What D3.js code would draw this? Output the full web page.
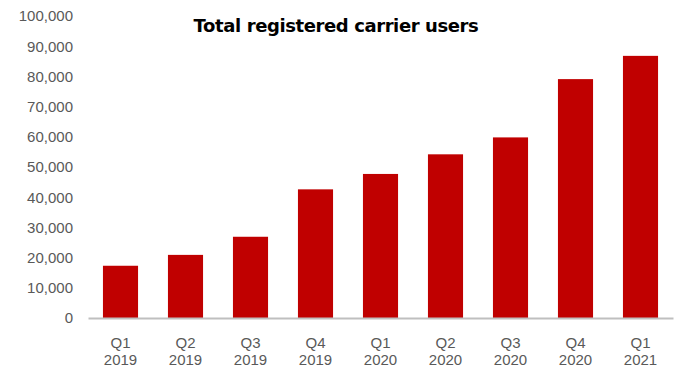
<!DOCTYPE html>
<html>
<head>
<meta charset="utf-8">
<script src="https://cdn.jsdelivr.net/npm/d3@7"></script>
<style>
  html, body { margin: 0; padding: 0; background: #fff; }
  svg { display: block; }
</style>
</head>
<body>
<svg id="chart" width="680" height="372"></svg>
<script>
// Quarterly totals of registered carrier users
const quarters = ["Q1", "Q2", "Q3", "Q4", "Q1", "Q2", "Q3", "Q4", "Q1"];
const years = ["2019", "2019", "2019", "2019", "2020", "2020", "2020", "2020", "2021"];
const users = [17300, 20900, 26900, 42600, 47700, 54200, 59800, 79100, 86800];
const yTicks = [0, 10000, 20000, 30000, 40000, 50000, 60000, 70000, 80000, 90000, 100000];
const title = "Total registered carrier users";

const svg = d3.select("#chart");
const margin = { left: 88, right: 7, top: 16, bottom: 54 };
const W = 680, H = 372;

const labels = quarters.map((q, i) => q + " " + years[i]);

const x = d3.scaleBand()
  .domain(labels)
  .range([margin.left, W - margin.right])
  .paddingInner(0.46)
  .paddingOuter(0.23);

const y = d3.scaleLinear()
  .domain([0, 100000])
  .range([H - margin.bottom, margin.top]);

// Bars
svg.append("g")
  .selectAll("rect")
  .data(users)
  .join("rect")
  .attr("x", (d, i) => x(labels[i]))
  .attr("y", d => y(d))
  .attr("width", x.bandwidth())
  .attr("height", d => y(0) - y(d))
  .attr("fill", "#c00000");

// Y axis: labels only
const yAxis = d3.axisLeft(y)
  .tickValues(yTicks)
  .tickFormat(d3.format(","))
  .tickSize(0)
  .tickPadding(0);

const gy = svg.append("g")
  .attr("transform", `translate(${margin.left - 15},0)`)
  .call(yAxis);
gy.select(".domain").remove();
gy.selectAll("text")
  .attr("fill", "#595959")
  .style("font-family", "Liberation Sans, Arial, sans-serif")
  .style("font-size", "15px");

// X axis: baseline plus two-line category labels
const xAxis = d3.axisBottom(x).tickSize(0).tickFormat(() => "");
const gx = svg.append("g")
  .attr("transform", `translate(0,${y(0)})`)
  .call(xAxis);
gx.select(".domain")
  .attr("stroke", "#bfbfbf")
  .attr("stroke-width", 2);

gx.selectAll(".tick").each(function(d, i) {
  const t = d3.select(this).append("text")
    .attr("text-anchor", "middle")
    .attr("fill", "#595959")
    .style("font-family", "Liberation Sans, Arial, sans-serif")
    .style("font-size", "15px");
  t.append("tspan").attr("x", 0).attr("y", 30).text(quarters[i]);
  t.append("tspan").attr("x", 0).attr("y", 47).text(years[i]);
});

// Title
svg.append("text")
  .attr("x", 336)
  .attr("y", 32)
  .attr("text-anchor", "middle")
  .attr("fill", "#000")
  .style("font-family", "DejaVu Sans, sans-serif")
  .style("font-weight", "bold")
  .style("font-size", "18px")
  .style("letter-spacing", "-0.4px")
  .text(title);
</script>
</body>
</html>
